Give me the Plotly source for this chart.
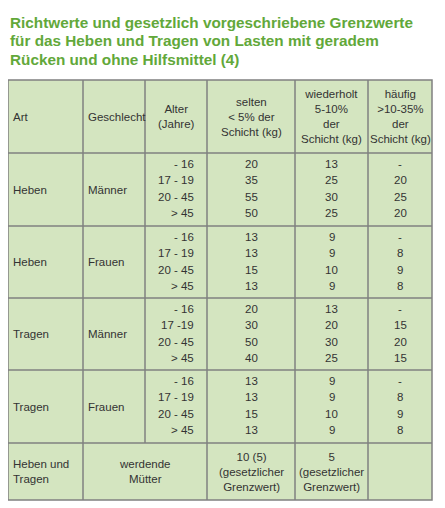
import plotly.graph_objects as go

title_lines = ["Richtwerte und gesetzlich vorgeschriebene Grenzwerte",
               "für das Heben und Tragen von Lasten mit geradem",
               "Rücken und ohne Hilfsmittel (4)"]

headers = ["Art", "Geschlecht", "Alter<br>(Jahre)", "selten<br>< 5% der<br>Schicht (kg)",
           "wiederholt<br>5-10%<br>der<br>Schicht (kg)", "häufig<br>>10-35%<br>der<br>Schicht (kg)"]

arten = ["Heben", "Heben", "Tragen", "Tragen"]
geschlecht = ["Männer", "Frauen", "Männer", "Frauen"]
alter = [["- 16", "17 - 19", "20 - 45", "> 45"],
         ["- 16", "17 - 19", "20 - 45", "> 45"],
         ["- 16", "17 -19", "20 - 45", "> 45"],
         ["- 16", "17 - 19", "20 - 45", "> 45"]]
selten = [[20, 35, 55, 50], [13, 13, 15, 13], [20, 30, 50, 40], [13, 13, 15, 13]]
wiederholt = [[13, 25, 30, 25], [9, 9, 10, 9], [13, 20, 30, 25], [9, 9, 10, 9]]
haeufig = [["-", 20, 25, 20], ["-", 8, 9, 8], ["-", 15, 20, 15], ["-", 8, 9, 8]]
last_row = ["Heben und<br>Tragen", "werdende<br>Mütter", "10 (5)<br>(gesetzlicher<br>Grenzwert)",
            "5<br>(gesetzlicher<br>Grenzwert)"]

# geometry (pixels of the reference)
col_x = [8, 83, 145, 207, 295, 368, 432]
row_y = [80, 153, 226, 298, 370, 443, 500]
green = "#62a83a"
fill = "#d4e5c0"
line_c = "#808080"
txt = "#333333"
font = dict(family="Liberation Sans, Arial", size=11.5, color=txt)

fig = go.Figure()
fig.add_trace(go.Scatter(x=[0, 445], y=[0, 508], mode="markers", marker=dict(opacity=0), hoverinfo="skip"))

shapes = []
shapes.append(dict(type="rect", x0=col_x[0], x1=col_x[-1], y0=row_y[0], y1=row_y[-1],
                   fillcolor=fill, line=dict(color=line_c, width=1.5), layer="below"))
for y in row_y[1:-1]:
    shapes.append(dict(type="line", x0=col_x[0], x1=col_x[-1], y0=y, y1=y, line=dict(color=line_c, width=1.5)))
for i, x in enumerate(col_x[1:-1], start=1):
    y1 = row_y[-2] if i == 2 else row_y[-1]
    shapes.append(dict(type="line", x0=x, x1=x, y0=row_y[0], y1=y1, line=dict(color=line_c, width=1.5)))

ann = []
for i, t in enumerate(title_lines):
    ann.append(dict(x=col_x[0], y=22 + 18.5 * i, text="<b>" + t + "</b>", showarrow=False, xanchor="left",
                    yanchor="middle", font=dict(family="Liberation Sans, Arial", size=15.3, color=green)))

hy = (row_y[0] + row_y[1]) / 2
for c, h in enumerate(headers):
    cx = (col_x[c] + col_x[c + 1]) / 2
    if c < 2:
        ann.append(dict(x=col_x[c] + 3, y=hy, text=h, showarrow=False, xanchor="left", yanchor="middle", font=font))
    else:
        ann.append(dict(x=cx, y=hy, text=h, showarrow=False, xanchor="center", yanchor="middle", font=font))

for g in range(4):
    top, bot = row_y[g + 1], row_y[g + 2]
    mid = (top + bot) / 2
    ann.append(dict(x=col_x[0] + 3, y=mid, text=arten[g], showarrow=False, xanchor="left", font=font))
    ann.append(dict(x=col_x[1] + 3, y=mid, text=geschlecht[g], showarrow=False, xanchor="left", font=font))
    for r in range(4):
        y = top + 11 + r * 16.3
        ann.append(dict(x=col_x[3] - 11, y=y, text=alter[g][r], showarrow=False, xanchor="right", font=font))
        for c, vals in zip([3, 4, 5], [selten, wiederholt, haeufig]):
            ann.append(dict(x=(col_x[c] + col_x[c + 1]) / 2, y=y, text=str(vals[g][r]),
                            showarrow=False, xanchor="center", font=font))

ly = (row_y[-2] + row_y[-1]) / 2
ann.append(dict(x=col_x[0] + 3, y=ly, text=last_row[0], showarrow=False, xanchor="left", align="left", font=font))
ann.append(dict(x=(col_x[1] + col_x[3]) / 2, y=ly, text=last_row[1], showarrow=False, font=font))
ann.append(dict(x=(col_x[3] + col_x[4]) / 2, y=ly, text=last_row[2], showarrow=False, font=font))
ann.append(dict(x=(col_x[4] + col_x[5]) / 2, y=ly, text=last_row[3], showarrow=False, font=font))

# page body has an 8px margin, so shift the visible range to compensate
fig.update_layout(
    width=445, height=508, margin=dict(l=0, r=0, t=0, b=0),
    paper_bgcolor="white", plot_bgcolor="white", showlegend=False,
    xaxis=dict(range=[8, 453], visible=False, fixedrange=True),
    yaxis=dict(range=[516, 8], visible=False, fixedrange=True),
    shapes=shapes, annotations=ann,
)
fig.write_html("out.html", config=dict(displayModeBar=False))
